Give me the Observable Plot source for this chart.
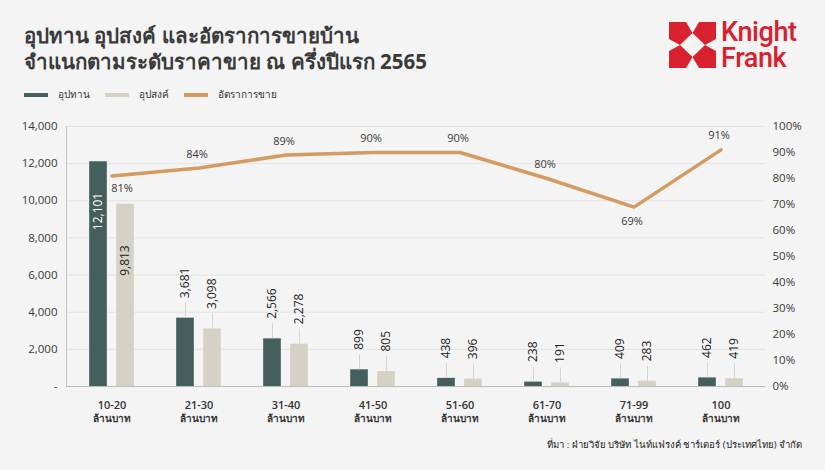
<!DOCTYPE html>
<html>
<head>
<meta charset="utf-8">
<script src="https://cdn.jsdelivr.net/npm/d3@7"></script>
<script src="https://cdn.jsdelivr.net/npm/@observablehq/plot@0.6"></script>
<style>
  body { margin: 0; background: #f3f4f3; font-family: "Open Sans", "Noto Sans", sans-serif; }
  #wrap { position: relative; width: 825px; height: 470px; overflow: hidden; background: #f3f4f3; }
  #title { position: absolute; left: 24px; top: 22px; font-size: 20.5px; font-weight: 700; color: #3a3a3a; line-height: 26px; }
  #legend { position: absolute; left: 24px; top: 87px; font-size: 10px; color: #333; display: flex; align-items: center; }
  #legend .sw { display: inline-block; width: 24px; height: 4px; margin-right: 10px; }
  #legend .it { display: flex; align-items: center; margin-right: 15px; }
  #logo { position: absolute; left: 669px; top: 22px; }
  .kf { position: absolute; left: 721px; color: #d9202f; font-family: "Roboto", sans-serif; font-weight: 500; font-size: 27px; line-height: 25px; height: 25px; letter-spacing: -0.4px; white-space: nowrap; }
  #chart { position: absolute; left: 0; top: 110px; }
  #source { position: absolute; right: 23px; top: 437px; font-size: 9.6px; color: #222; }
</style>
</head>
<body>
<div id="wrap">
  <div id="title">อุปทาน อุปสงค์ และอัตราการขายบ้าน<br>จำแนกตามระดับราคาขาย ณ ครึ่งปีแรก 2565</div>
  <div id="legend"></div>
  <svg id="logo" width="47" height="46" viewBox="0 0 47 46">
    <rect x="0" y="0" width="47" height="46" fill="#d9202f"/>
    <polygon points="17,0 30,0 23.5,11" fill="#f3f4f3"/>
    <polygon points="17,46 30,46 23.5,35" fill="#f3f4f3"/>
    <polygon points="0,17 0,29 11,23" fill="#f3f4f3"/>
    <polygon points="47,17 47,29 36,23" fill="#f3f4f3"/>
    <polygon points="23.5,11 36,23 23.5,35 11,23" fill="#f3f4f3"/>
  </svg>
  <div class="kf" style="top:20px">Knight</div>
  <div class="kf" style="top:46px">Frank</div>
  <div id="chart"></div>
  <div id="source">ที่มา : ฝ่ายวิจัย บริษัท ไนท์แฟรงค์ ชาร์เตอร์ (ประเทศไทย) จำกัด</div>
</div>
<script>
// ---- data ----
const categories = ["10-20", "21-30", "31-40", "41-50", "51-60", "61-70", "71-99", "100"];
const unitLabel = "ล้านบาท";
const supply = [12101, 3681, 2566, 899, 438, 238, 409, 462];   // อุปทาน
const demand = [9813, 3098, 2278, 805, 396, 191, 283, 419];    // อุปสงค์
const saleRate = [81, 84, 89, 90, 90, 80, 69, 91];             // อัตราการขาย (%)
const leftTicks = [0, 2000, 4000, 6000, 8000, 10000, 12000, 14000];
const rightTicks = [0, 10, 20, 30, 40, 50, 60, 70, 80, 90, 100];
const seriesNames = ["อุปทาน", "อุปสงค์", "อัตราการขาย"];

// ---- styles ----
const colors = ["#445f5d", "#d6d1c5", "#d49a5f"];
const W = 825, H = 320, mL = 66, mR = 60, mT = 16, mB = 44;
const yMax = leftTicks[leftTicks.length - 1];
const pctToY = p => p / 100 * yMax;
const bw = (W - mL - mR) / categories.length;
const off = 13.5, half = 9;
const pxToUnits = px => px * yMax / (H - mT - mB);
const fmt = d3.format(",");

const rows = categories.map((c, i) => ({cat: c, supply: supply[i], demand: demand[i], rate: saleRate[i], i}));
const isBelow = d => d.i === 0 || (d.i > 0 && d.i < rows.length - 1 && d.rate < rows[d.i - 1].rate && d.rate < rows[d.i + 1].rate);

// legend
const lg = document.getElementById("legend");
seriesNames.forEach((n, k) => {
  const it = document.createElement("span");
  it.className = "it";
  it.innerHTML = `<span class="sw" style="background:${colors[k]}"></span><span>${n}</span>`;
  lg.appendChild(it);
});

const inside = 5000;
const chart = Plot.plot({
  width: W, height: H,
  marginLeft: mL, marginRight: mR, marginTop: mT, marginBottom: mB,
  style: {background: "transparent", fontFamily: "'Open Sans', 'Noto Sans', sans-serif", color: "#333"},
  x: {type: "band", domain: categories, padding: 0, axis: null},
  y: {domain: [0, yMax], axis: null},
  marks: [
    Plot.gridY(leftTicks.filter(t => t > 0), {stroke: "#e2e3e2", strokeOpacity: 1}),
    Plot.axisY({ticks: leftTicks, tickSize: 0, tickPadding: 9, fontSize: 11.5, fill: "#3a3a3a", label: null,
      tickFormat: d => d === 0 ? "-" : fmt(d)}),
    Plot.axisY({anchor: "right", ticks: rightTicks.map(pctToY), tickSize: 0, tickPadding: 7, fontSize: 11.5, fill: "#3a3a3a", label: null,
      tickFormat: d => Math.round(d / yMax * 100) + "%"}),
    Plot.frame({anchor: "left", stroke: "#c4c6c4"}),
    // bars
    Plot.barY(rows, {x: "cat", y: "supply", fill: colors[0], insetLeft: bw / 2 - off - half, insetRight: bw / 2 + off - half}),
    Plot.barY(rows, {x: "cat", y: "demand", fill: colors[1], insetLeft: bw / 2 + off - half, insetRight: bw / 2 - off - half}),
    Plot.ruleY([0], {stroke: "#b9bbb9"}),
    // leader lines
    Plot.ruleX(rows.filter(d => d.supply < inside), {x: "cat", y1: "supply", y2: d => d.supply + pxToUnits(15), dx: -off, stroke: "#d4d4d4"}),
    Plot.ruleX(rows.filter(d => d.demand < inside), {x: "cat", y1: "demand", y2: d => d.demand + pxToUnits(15), dx: off, stroke: "#d4d4d4"}),
    // value labels
    Plot.text(rows.filter(d => d.supply < inside), {x: "cat", y: "supply", text: d => fmt(d.supply), rotate: -90, textAnchor: "start", dx: -off, dy: -20, fontSize: 12, fill: "#222"}),
    Plot.text(rows.filter(d => d.demand < inside), {x: "cat", y: "demand", text: d => fmt(d.demand), rotate: -90, textAnchor: "start", dx: off, dy: -20, fontSize: 12, fill: "#222"}),
    Plot.text(rows.filter(d => d.supply >= inside), {x: "cat", y: "supply", text: d => fmt(d.supply), rotate: -90, textAnchor: "end", dx: -off, dy: 31, fontSize: 12, fill: "#ffffff"}),
    Plot.text(rows.filter(d => d.demand >= inside), {x: "cat", y: "demand", text: d => fmt(d.demand), rotate: -90, textAnchor: "end", dx: off, dy: 41, fontSize: 12, fill: "#222"}),
    // sales rate line
    Plot.line(rows, {x: "cat", y: d => pctToY(d.rate), stroke: colors[2], strokeWidth: 3.5}),
    Plot.text(rows.filter(d => !isBelow(d)), {x: "cat", y: d => pctToY(d.rate), text: d => d.rate + "%", dy: -14, dx: -2, fontSize: 11, fill: "#3a3a3a"}),
    Plot.text(rows.filter(d => isBelow(d) && d.i === 0), {x: "cat", y: d => pctToY(d.rate), text: d => d.rate + "%", dy: 13, dx: 10, fontSize: 11, fill: "#3a3a3a"}),
    Plot.text(rows.filter(d => isBelow(d) && d.i > 0), {x: "cat", y: d => pctToY(d.rate), text: d => d.rate + "%", dy: 14, dx: -2, fontSize: 11, fill: "#3a3a3a"}),
    // x labels (two lines each)
    Plot.text(categories, {x: d => d, frameAnchor: "bottom", text: d => d, lineAnchor: "middle", dy: 19, fontSize: 11, fontWeight: 600, fill: "#333"}),
    Plot.text(categories, {x: d => d, frameAnchor: "bottom", text: () => unitLabel, lineAnchor: "middle", dy: 32, fontSize: 10, fontWeight: 600, fill: "#333"})
  ]
});
document.getElementById("chart").appendChild(chart);
</script>
</body>
</html>
